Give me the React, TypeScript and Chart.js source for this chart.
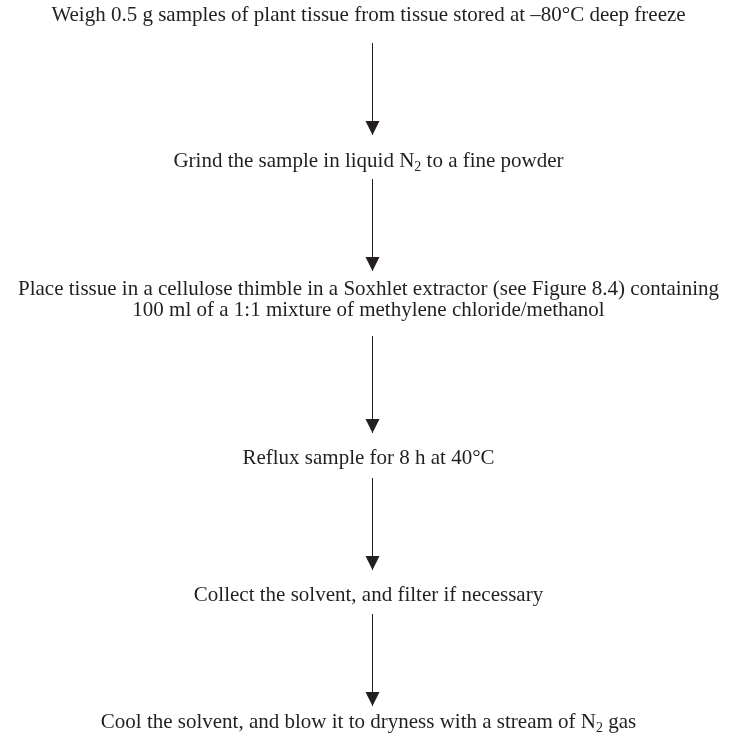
import React, { useEffect, useRef } from "react";
import { Chart, registerables } from "chart.js";

Chart.register(...registerables);

// Flow steps (text, "{x}" marks a subscript); each entry is a list of lines
const stepTexts: string[][] = [
  ["Weigh 0.5 g samples of plant tissue from tissue stored at \u201380\u00b0C deep freeze"],
  ["Grind the sample in liquid N{2} to a fine powder"],
  [
    "Place tissue in a cellulose thimble in a Soxhlet extractor (see Figure 8.4) containing",
    "100 ml of a 1:1 mixture of methylene chloride/methanol",
  ],
  ["Reflux sample for 8 h at 40\u00b0C"],
  ["Collect the solvent, and filter if necessary"],
  ["Cool the solvent, and blow it to dryness with a stream of N{2} gas"],
];
// vertical level of each step (axis units, top = 0)
const stepLevels: number[] = [15, 161, 300, 458, 595, 722];
// arrows between steps: start and tip levels (axis units)
const arrowFrom: number[] = [43, 179, 336, 478, 614];
const arrowTo: number[] = [135, 271, 433, 570, 706];

const W = 737;
const H = 739;
const TEXT_X = 368.5;
const ARROW_X = 372.5;
const INK = "#231f20";
const FONT = "'Liberation Serif', 'Times New Roman', serif";
const FONT_SIZE = 21;
const LINE_H = 21;

function parseRuns(s: string) {
  const runs: { t: string; sub: boolean }[] = [];
  const re = /\{([^}]*)\}/g;
  let last = 0;
  let m: RegExpExecArray | null;
  while ((m = re.exec(s))) {
    if (m.index > last) runs.push({ t: s.slice(last, m.index), sub: false });
    runs.push({ t: m[1], sub: true });
    last = m.index + m[0].length;
  }
  if (last < s.length) runs.push({ t: s.slice(last), sub: false });
  return runs;
}

const flowPlugin = {
  id: "flowPlugin",
  afterDatasetsDraw(chart: any) {
    const ctx = chart.ctx as CanvasRenderingContext2D;
    const xs = chart.scales.x;
    const ys = chart.scales.y;
    ctx.save();
    // arrowheads
    chart.data.datasets.forEach((_: any, i: number) => {
      const meta = chart.getDatasetMeta(i);
      const pts = meta.data;
      const tip = pts[pts.length - 1];
      const tx = tip.x;
      const ty = tip.y;
      ctx.beginPath();
      ctx.moveTo(tx, ty);
      ctx.lineTo(tx - 7, ty - 14);
      ctx.lineTo(tx + 7, ty - 14);
      ctx.closePath();
      ctx.fillStyle = INK;
      ctx.fill();
    });
    // texts
    ctx.fillStyle = INK;
    ctx.textBaseline = "middle";
    ctx.textAlign = "left";
    const big = `${FONT_SIZE}px ${FONT}`;
    const small = `${Math.round(FONT_SIZE * 0.68)}px ${FONT}`;
    stepTexts.forEach((lines, i) => {
      const cy0 = ys.getPixelForValue(stepLevels[i]);
      const n = lines.length;
      lines.forEach((line, j) => {
        const cy = cy0 + (j - (n - 1) / 2) * LINE_H;
        const runs = parseRuns(line);
        let total = 0;
        const widths = runs.map((r) => {
          ctx.font = r.sub ? small : big;
          const w = ctx.measureText(r.t).width;
          total += w;
          return w;
        });
        let x = xs.getPixelForValue(TEXT_X) - total / 2;
        runs.forEach((r, k) => {
          ctx.font = r.sub ? small : big;
          ctx.fillText(r.t, x, r.sub ? cy + 6 : cy);
          x += widths[k];
        });
      });
    });
    ctx.restore();
  },
};

export default function App() {
  const ref = useRef<HTMLCanvasElement | null>(null);
  useEffect(() => {
    if (!ref.current) return;
    const chart = new Chart(ref.current, {
      type: "scatter",
      data: {
        datasets: arrowFrom.map((f, i) => ({
          data: [
            { x: ARROW_X, y: f },
            { x: ARROW_X, y: arrowTo[i] },
          ],
          showLine: true,
          borderColor: INK,
          borderWidth: 1,
          pointRadius: 0,
          pointHoverRadius: 0,
        })),
      },
      options: {
        animation: false,
        responsive: false,
        events: [],
        layout: { padding: 0 },
        scales: {
          x: { type: "linear", min: 0, max: W, display: false },
          y: { type: "linear", min: 0, max: H, reverse: true, display: false },
        },
        plugins: {
          legend: { display: false },
          tooltip: { enabled: false },
          title: { display: false },
        },
      },
      plugins: [flowPlugin],
    });
    return () => chart.destroy();
  }, []);
  return (
    <div style={{ position: "fixed", left: 0, top: 0, width: W, height: H, background: "#fff" }}>
      <canvas ref={ref} width={W} height={H} style={{ display: "block" }} />
    </div>
  );
}
